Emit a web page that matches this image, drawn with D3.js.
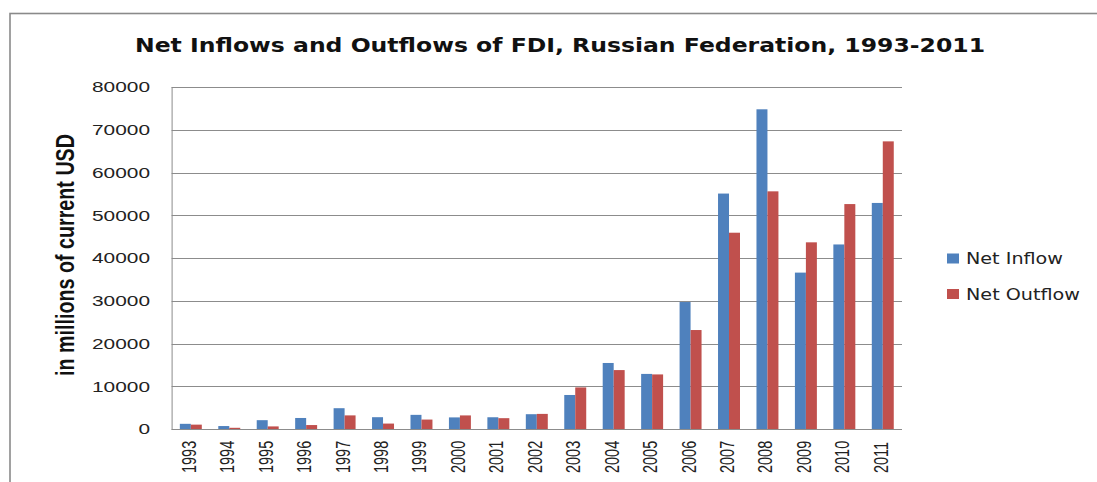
<!DOCTYPE html>
<html>
<head>
<meta charset="utf-8">
<script src="https://cdn.jsdelivr.net/npm/d3@7"></script>
<style>
  body { margin: 0; background: #fff; }
  svg { display: block; }
</style>
</head>
<body>
<svg id="chart"></svg>
<script>
// data (millions of current USD)
const years = ["1993","1994","1995","1996","1997","1998","1999","2000","2001","2002",
               "2003","2004","2005","2006","2007","2008","2009","2010","2011"];
const netInflow  = [1211, 690, 2065, 2579, 4865, 2761, 3309, 2714, 2748, 3461,
                    7958, 15444, 12886, 29701, 55073, 74783, 36583, 43168, 52878];
const netOutflow = [1022, 281, 606, 923, 3184, 1270, 2208, 3177, 2533, 3533,
                    9727, 13782, 12767, 23151, 45916, 55594, 43665, 52616, 67283];
const seriesNames = ["Net Inflow", "Net Outflow"];
const yTicks = [0, 10000, 20000, 30000, 40000, 50000, 60000, 70000, 80000];

const W = 1097, H = 482;
const plot = {left: 171.6, right: 902, top: 87, bottom: 429};
const colors = ["#4F81BD", "#C0504D"];
const gridColor = "#8c8c8c";

const svg = d3.select("#chart").attr("width", W).attr("height", H);

// outer chart frame (runs off the right and bottom edge)
svg.append("rect")
    .attr("x", 10).attr("y", 13.5)
    .attr("width", W + 20).attr("height", H + 20)
    .attr("fill", "#fff")
    .attr("stroke", "#8a8a8a")
    .attr("stroke-width", 1.6);

svg.append("text")
    .attr("x", 560).attr("y", 52)
    .attr("text-anchor", "middle")
    .attr("font-family", "DejaVu Sans")
    .attr("font-weight", "bold")
    .attr("font-size", 20)
    .attr("textLength", 850)
    .attr("lengthAdjust", "spacingAndGlyphs")
    .attr("fill", "#111")
    .text("Net Inflows and Outflows of FDI, Russian Federation, 1993-2011");

const y = d3.scaleLinear().domain([0, 80000]).range([plot.bottom, plot.top]);

const x0 = d3.scaleBand()
    .domain(years)
    .range([plot.left, plot.right])
    .paddingInner(0.6 / 1.4)
    .paddingOuter(0.3 / 1.4);

const x1 = d3.scaleBand()
    .domain(seriesNames)
    .range([0, x0.bandwidth()]);

// gridlines
svg.append("g")
  .selectAll("line")
  .data(yTicks)
  .join("line")
    .attr("x1", plot.left).attr("x2", plot.right)
    .attr("y1", d => Math.round(y(d)) + 0.5)
    .attr("y2", d => Math.round(y(d)) + 0.5)
    .attr("stroke", gridColor)
    .attr("stroke-width", 1);

// y tick labels
svg.append("g")
  .selectAll("text")
  .data(yTicks)
  .join("text")
    .attr("x", 150)
    .attr("y", d => y(d))
    .attr("dy", "0.36em")
    .attr("text-anchor", "end")
    .attr("font-family", "Liberation Sans")
    .attr("font-size", 15)
    .attr("textLength", d => String(d).length * 11.6)
    .attr("lengthAdjust", "spacingAndGlyphs")
    .attr("fill", "#222")
    .text(d => d);

// bars
const rows = years.map((yr, i) => ({year: yr, values: [netInflow[i], netOutflow[i]]}));

svg.append("g")
  .selectAll("g")
  .data(rows)
  .join("g")
    .attr("transform", d => `translate(${x0(d.year)},0)`)
  .selectAll("rect")
  .data(d => d.values.map((v, k) => ({name: seriesNames[k], value: v, k})))
  .join("rect")
    .attr("x", d => x1(d.name))
    .attr("y", d => y(d.value))
    .attr("width", x1.bandwidth())
    .attr("height", d => y(0) - y(d.value))
    .attr("fill", d => colors[d.k]);

// axis lines
svg.append("line")
    .attr("x1", plot.left + 0.5).attr("x2", plot.left + 0.5)
    .attr("y1", plot.top).attr("y2", plot.bottom)
    .attr("stroke", gridColor);
svg.append("line")
    .attr("x1", plot.left).attr("x2", plot.right)
    .attr("y1", Math.round(y(0)) + 0.5).attr("y2", Math.round(y(0)) + 0.5)
    .attr("stroke", gridColor);

// rotated year labels
svg.append("g")
  .selectAll("text")
  .data(years)
  .join("text")
    .attr("transform", d => `translate(${x0(d) + x0.bandwidth() / 2 + 5},473) scale(1.35,1) rotate(-90)`)
    .attr("text-anchor", "start")
    .attr("font-family", "Liberation Sans")
    .attr("font-size", 14.5)
    .attr("fill", "#222")
    .text(d => d);

// y axis title
svg.append("text")
    .attr("transform", "translate(74,255) scale(1.35,1) rotate(-90)")
    .attr("text-anchor", "middle")
    .attr("font-family", "Liberation Sans")
    .attr("font-weight", "bold")
    .attr("font-size", 19)
    .attr("textLength", 242)
    .attr("lengthAdjust", "spacingAndGlyphs")
    .attr("fill", "#111")
    .text("in millions of current USD");

// legend
const legend = svg.append("g")
  .selectAll("g")
  .data(seriesNames)
  .join("g")
    .attr("transform", (d, i) => `translate(947,${253.5 + i * 35.5})`);

legend.append("rect")
    .attr("width", 12).attr("height", 10)
    .attr("fill", (d, i) => colors[i]);

legend.append("text")
    .attr("x", 19).attr("y", 10.5)
    .attr("font-family", "DejaVu Sans")
    .attr("font-size", 15)
    .attr("textLength", d => d === "Net Inflow" ? 97 : 114)
    .attr("lengthAdjust", "spacingAndGlyphs")
    .attr("fill", "#222")
    .text(d => d);
</script>
</body>
</html>
